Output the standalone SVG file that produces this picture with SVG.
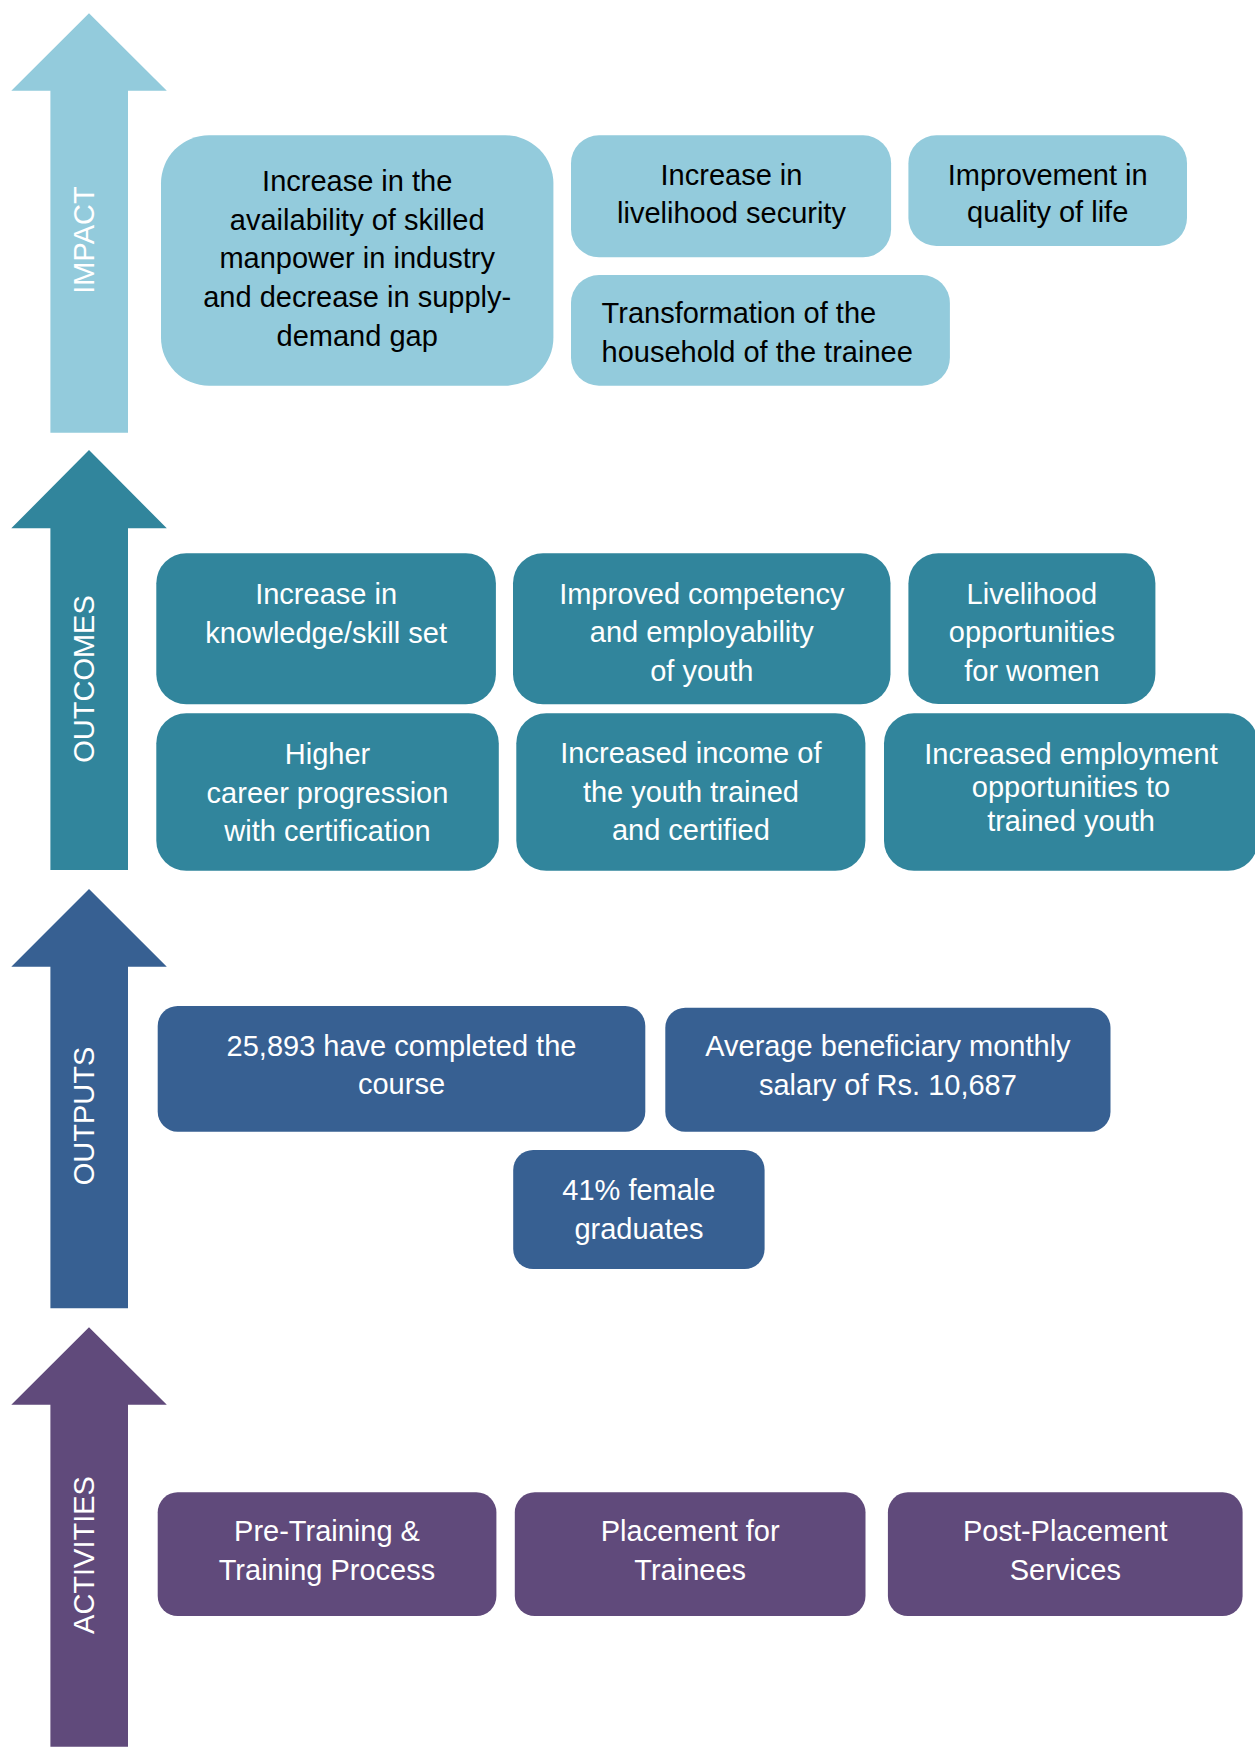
<svg xmlns="http://www.w3.org/2000/svg" width="1255" height="1753" viewBox="0 0 1255 1753">
<style>
.t{font-family:"Liberation Sans",Arial,sans-serif;font-size:29px;text-anchor:middle}
.l{text-anchor:start}
.k{fill:#000}
.w{fill:#fff}
.lab{font-family:"Liberation Sans",Arial,sans-serif;font-size:29px;text-anchor:middle;fill:#fff}
.imp{fill:#93CBDC}
.out{fill:#31859C}
.opt{fill:#376092}
.act{fill:#604A7B}
</style>
<rect width="1255" height="1753" fill="#fff"/>
<g id="level-arrows">
<g id="arrow-impact">
<path class="imp" d="M50.4,432.7 L50.4,90.7 L11.3,90.7 L89,13.3 L166.8,90.7 L128,90.7 L128,432.7 Z"/>
<text class="lab" transform="translate(94,240) rotate(-90)">IMPACT</text>
</g>
<g id="arrow-outcomes">
<path class="out" d="M50.4,870 L50.4,528.3 L11.3,528.3 L89,450 L166.8,528.3 L128,528.3 L128,870 Z"/>
<text class="lab" transform="translate(94,679) rotate(-90)">OUTCOMES</text>
</g>
<g id="arrow-outputs">
<path class="opt" d="M50.4,1308.3 L50.4,966.7 L11.3,966.7 L89,889 L166.8,966.7 L128,966.7 L128,1308.3 Z"/>
<text class="lab" transform="translate(94,1116) rotate(-90)">OUTPUTS</text>
</g>
<g id="arrow-activities">
<path class="act" d="M50.4,1746.7 L50.4,1404.7 L11.3,1404.7 L89,1327.3 L166.8,1404.7 L128,1404.7 L128,1746.7 Z"/>
<text class="lab" transform="translate(94,1555) rotate(-90)">ACTIVITIES</text>
</g>
</g>

<g id="impact-skilled-manpower">
<rect class="imp" x="161" y="135.3" width="392.4" height="250.4" rx="48"/>
<text class="t k"><tspan x="357.2" y="190.5">Increase in the</tspan><tspan x="357.2" y="229.5">availability of skilled</tspan><tspan x="357.2" y="268.2">manpower in industry</tspan><tspan x="357.2" y="306.8">and decrease in supply-</tspan><tspan x="357.2" y="345.5">demand gap</tspan></text>
</g>
<g id="impact-livelihood-security">
<rect class="imp" x="571" y="135.3" width="320.1" height="122" rx="28"/>
<text class="t k"><tspan x="731.5" y="184.5">Increase in</tspan><tspan x="731.5" y="223">livelihood security</tspan></text>
</g>
<g id="impact-quality-of-life">
<rect class="imp" x="908.4" y="135.3" width="278.6" height="110.7" rx="28"/>
<text class="t k"><tspan x="1047.7" y="184.5">Improvement in</tspan><tspan x="1047.7" y="222">quality of life</tspan></text>
</g>
<g id="impact-household-transformation">
<rect class="imp" x="571" y="275" width="378.9" height="110.7" rx="28"/>
<text class="t k l"><tspan x="601.6" y="323">Transformation of the</tspan><tspan x="601.6" y="362">household of the trainee</tspan></text>
</g>

<g id="outcome-knowledge">
<rect class="out" x="156.3" y="553.3" width="339.6" height="151" rx="30"/>
<text class="t w"><tspan x="326.1" y="604">Increase in</tspan><tspan x="326.1" y="642.5">knowledge/skill set</tspan></text>
</g>
<g id="outcome-competency">
<rect class="out" x="513" y="553.3" width="377.5" height="151" rx="30"/>
<text class="t w"><tspan x="701.8" y="603.5">Improved competency</tspan><tspan x="701.8" y="642">and employability</tspan><tspan x="701.8" y="680.5">of youth</tspan></text>
</g>
<g id="outcome-livelihood-women">
<rect class="out" x="908.4" y="553.3" width="247" height="150.7" rx="30"/>
<text class="t w"><tspan x="1031.9" y="603.5">Livelihood</tspan><tspan x="1031.9" y="642">opportunities</tspan><tspan x="1031.9" y="680.5">for women</tspan></text>
</g>
<g id="outcome-career">
<rect class="out" x="156.3" y="713.3" width="342.5" height="157.4" rx="30"/>
<text class="t w"><tspan x="327.5" y="763.5">Higher</tspan><tspan x="327.5" y="802.5">career progression</tspan><tspan x="327.5" y="841">with certification</tspan></text>
</g>
<g id="outcome-income">
<rect class="out" x="516.3" y="713.3" width="349.1" height="157.4" rx="30"/>
<text class="t w"><tspan x="690.9" y="762.7">Increased income of</tspan><tspan x="690.9" y="801.7">the youth trained</tspan><tspan x="690.9" y="840.3">and certified</tspan></text>
</g>
<g id="outcome-employment">
<rect class="out" x="884" y="713.3" width="374" height="157.4" rx="30"/>
<text class="t w"><tspan x="1071" y="763.5">Increased employment</tspan><tspan x="1071" y="797">opportunities to</tspan><tspan x="1071" y="831">trained youth</tspan></text>
</g>

<g id="output-completed">
<rect class="opt" x="157.7" y="1006" width="487.6" height="125.7" rx="20"/>
<text class="t w"><tspan x="401.5" y="1055.5">25,893 have completed the</tspan><tspan x="401.5" y="1094">course</tspan></text>
</g>
<g id="output-salary">
<rect class="opt" x="665.3" y="1007.7" width="445.2" height="124" rx="20"/>
<text class="t w"><tspan x="887.9" y="1056">Average beneficiary monthly</tspan><tspan x="887.9" y="1094.8">salary of Rs. 10,687</tspan></text>
</g>
<g id="output-female">
<rect class="opt" x="513.2" y="1150" width="251.4" height="119" rx="20"/>
<text class="t w"><tspan x="638.9" y="1199.5">41% female</tspan><tspan x="638.9" y="1238.5">graduates</tspan></text>
</g>

<g id="activity-training">
<rect class="act" x="157.7" y="1492.3" width="338.7" height="123.7" rx="20"/>
<text class="t w"><tspan x="327" y="1541.3">Pre-Training &amp;</tspan><tspan x="327" y="1579.6">Training Process</tspan></text>
</g>
<g id="activity-placement">
<rect class="act" x="514.8" y="1492.3" width="350.7" height="123.7" rx="20"/>
<text class="t w"><tspan x="690.2" y="1541.3">Placement for</tspan><tspan x="690.2" y="1579.6">Trainees</tspan></text>
</g>
<g id="activity-post-placement">
<rect class="act" x="887.9" y="1492.3" width="354.7" height="123.7" rx="20"/>
<text class="t w"><tspan x="1065.3" y="1541.3">Post-Placement</tspan><tspan x="1065.3" y="1579.6">Services</tspan></text>
</g>
</svg>
